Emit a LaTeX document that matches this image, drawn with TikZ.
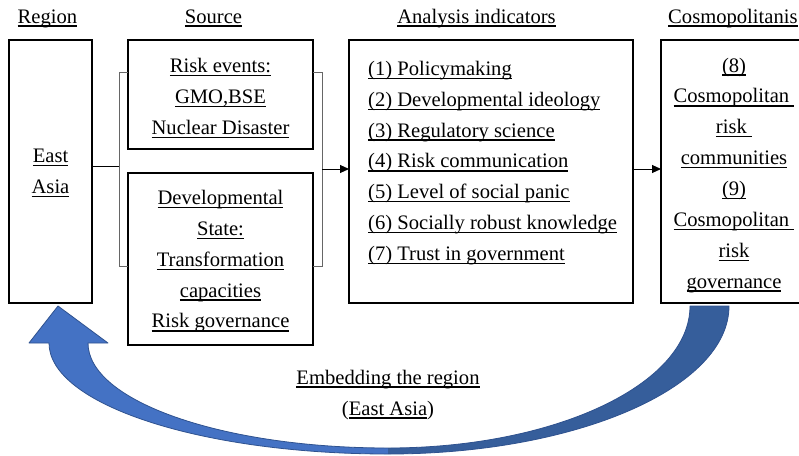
\documentclass[tikz,border=0pt]{standalone}
\usepackage{fontspec}
\setmainfont{Liberation Serif}
\usetikzlibrary{arrows.meta}
\newlength{\myulw}
\newcommand{\myul}[1]{\settowidth{\myulw}{#1}\rlap{\rule[-3.6pt]{\myulw}{1.2pt}}#1}
\definecolor{blueL}{HTML}{4472C4}
\definecolor{blueD}{HTML}{365E9B}
\definecolor{blueB}{HTML}{2F528F}
\tikzset{
  box/.style={draw, line width=1.4pt, outer sep=0pt, inner sep=0pt},
  txt/.style={anchor=base, inner sep=0pt, font=\fontsize{20.6}{31}\selectfont},
  txtl/.style={txt, anchor=base west},
  bracket/.style={draw=black!60, line width=0.9pt},
  link/.style={draw=black, line width=1pt},
  arr/.style={link, -{Triangle[length=9pt,width=8pt]}},
  curvedarrow/.style={draw=blueB, line width=0.8pt, line join=round},
}
\begin{document}
\begin{tikzpicture}[x=1pt,y=-1pt]
\useasboundingbox (0,0) rectangle (799,455);
\clip (0,0) rectangle (799,455);

% headers
\node[txt] (hRegion) at (47.5,23) {\myul{Region}};
\node[txt] (hSource) at (213.5,23) {\myul{Source}};
\node[txt] (hAnalysis) at (476.5,23) {\myul{Analysis indicators}};
\node[txtl] (hCosmo) at (668,23) {\myul{Cosmopolitanis}};

% boxes
\node[box, minimum width=83pt, minimum height=263pt] (region) at (50.5,171.5) {};
\node[box, minimum width=185pt, minimum height=109pt] (risk) at (220.5,94.5) {};
\node[box, minimum width=185pt, minimum height=172pt] (dev) at (220.5,259) {};
\node[box, minimum width=284pt, minimum height=263pt] (analysis) at (491,171.5) {};
\node[box, minimum width=146pt, minimum height=263pt] (cosmo) at (734,171.5) {};

% region text
\node[txt] (r1) at (50.5,162.8) {\myul{East}};
\node[txt] (r2) at (50.5,193.3) {\myul{Asia}};

% risk events text
\node[txt] (k1) at (220.5,72.5) {\myul{Risk events:}};
\node[txt] (k2) at (220.5,103.4) {\myul{GMO,BSE}};
\node[txt] (k3) at (220.5,134.3) {\myul{Nuclear Disaster}};

% developmental state text
\node[txt] (d1) at (220.5,204.3) {\myul{Developmental}};
\node[txt] (d2) at (220.5,235.2) {\myul{State:}};
\node[txt] (d3) at (220.5,266.1) {\myul{Transformation}};
\node[txt] (d4) at (220.5,297) {\myul{capacities}};
\node[txt] (d5) at (220.5,327.9) {\myul{Risk governance}};

% analysis indicators
\node[txtl] (a1) at (368,75.2) {\myul{(1) Policymaking}};
\node[txtl] (a2) at (368,106.1) {\myul{(2) Developmental ideology}};
\node[txtl] (a3) at (368,137) {\myul{(3) Regulatory science}};
\node[txtl] (a4) at (368,167.9) {\myul{(4) Risk communication}};
\node[txtl] (a5) at (368,198.8) {\myul{(5) Level of social panic}};
\node[txtl] (a6) at (368,229.7) {\myul{(6) Socially robust knowledge}};
\node[txtl] (a7) at (368,260.6) {\myul{(7) Trust in government}};

% cosmopolitanism text
\node[txt] (c1) at (734,72) {\myul{(8)}};
\node[txt] (c2) at (734,102.9) {\myul{Cosmopolitan\kern0.25em}};
\node[txt] (c3) at (734,133.7) {\myul{risk\kern0.25em}};
\node[txt] (c4) at (734,164.6) {\myul{communities}};
\node[txt] (c5) at (734,195.4) {\myul{(9)}};
\node[txt] (c6) at (734,226.3) {\myul{Cosmopolitan\kern0.25em}};
\node[txt] (c7) at (734,257.1) {\myul{risk}};
\node[txt] (c8) at (734,288) {\myul{governance}};

% connectors
\coordinate (blt) at (119,72);
\coordinate (blb) at (119,266);
\coordinate (brt) at (322,72);
\coordinate (brb) at (322,266);
\coordinate (bl) at (119,166);
\coordinate (br) at (322,169);
\draw[bracket] (risk.west |- blt) -- (blt) -- (blb) -- (dev.west |- blb);
\draw[bracket] (risk.east |- brt) -- (brt) -- (brb) -- (dev.east |- brb);
\draw[link] (region.east |- bl) -- (bl);
\draw[arr] (br) -- (analysis.west |- br);
\draw[arr] (analysis.east |- br) -- (cosmo.west |- br);

% curved block arrow
\fill[blueL] (388,454) .. controls (200.8,454) and (49,404.3) .. (49,343)
  -- (29,343) -- (58,306) -- (108,343) -- (88,343)
  .. controls (88,401) and (222.3,448) .. (388,448) -- cycle;
\fill[blueD] (729,306) .. controls (729,387.7) and (576.3,454) .. (388,454)
  -- (388,448) .. controls (554.8,448) and (690,384.4) .. (690,306) -- cycle;
\draw[curvedarrow] (729,306) .. controls (729,387.7) and (576.3,454) .. (388,454)
  .. controls (200.8,454) and (49,404.3) .. (49,343)
  -- (29,343) -- (58,306) -- (108,343) -- (88,343)
  .. controls (88,401) and (222.3,448) .. (388,448)
  .. controls (554.8,448) and (690,384.4) .. (690,306) -- cycle;

% bottom label
\node[txt] (e1) at (388,384) {\myul{Embedding the region}};
\node[txt] (e2) at (388,415) {(\myul{East Asia})};
\end{tikzpicture}
\end{document}
